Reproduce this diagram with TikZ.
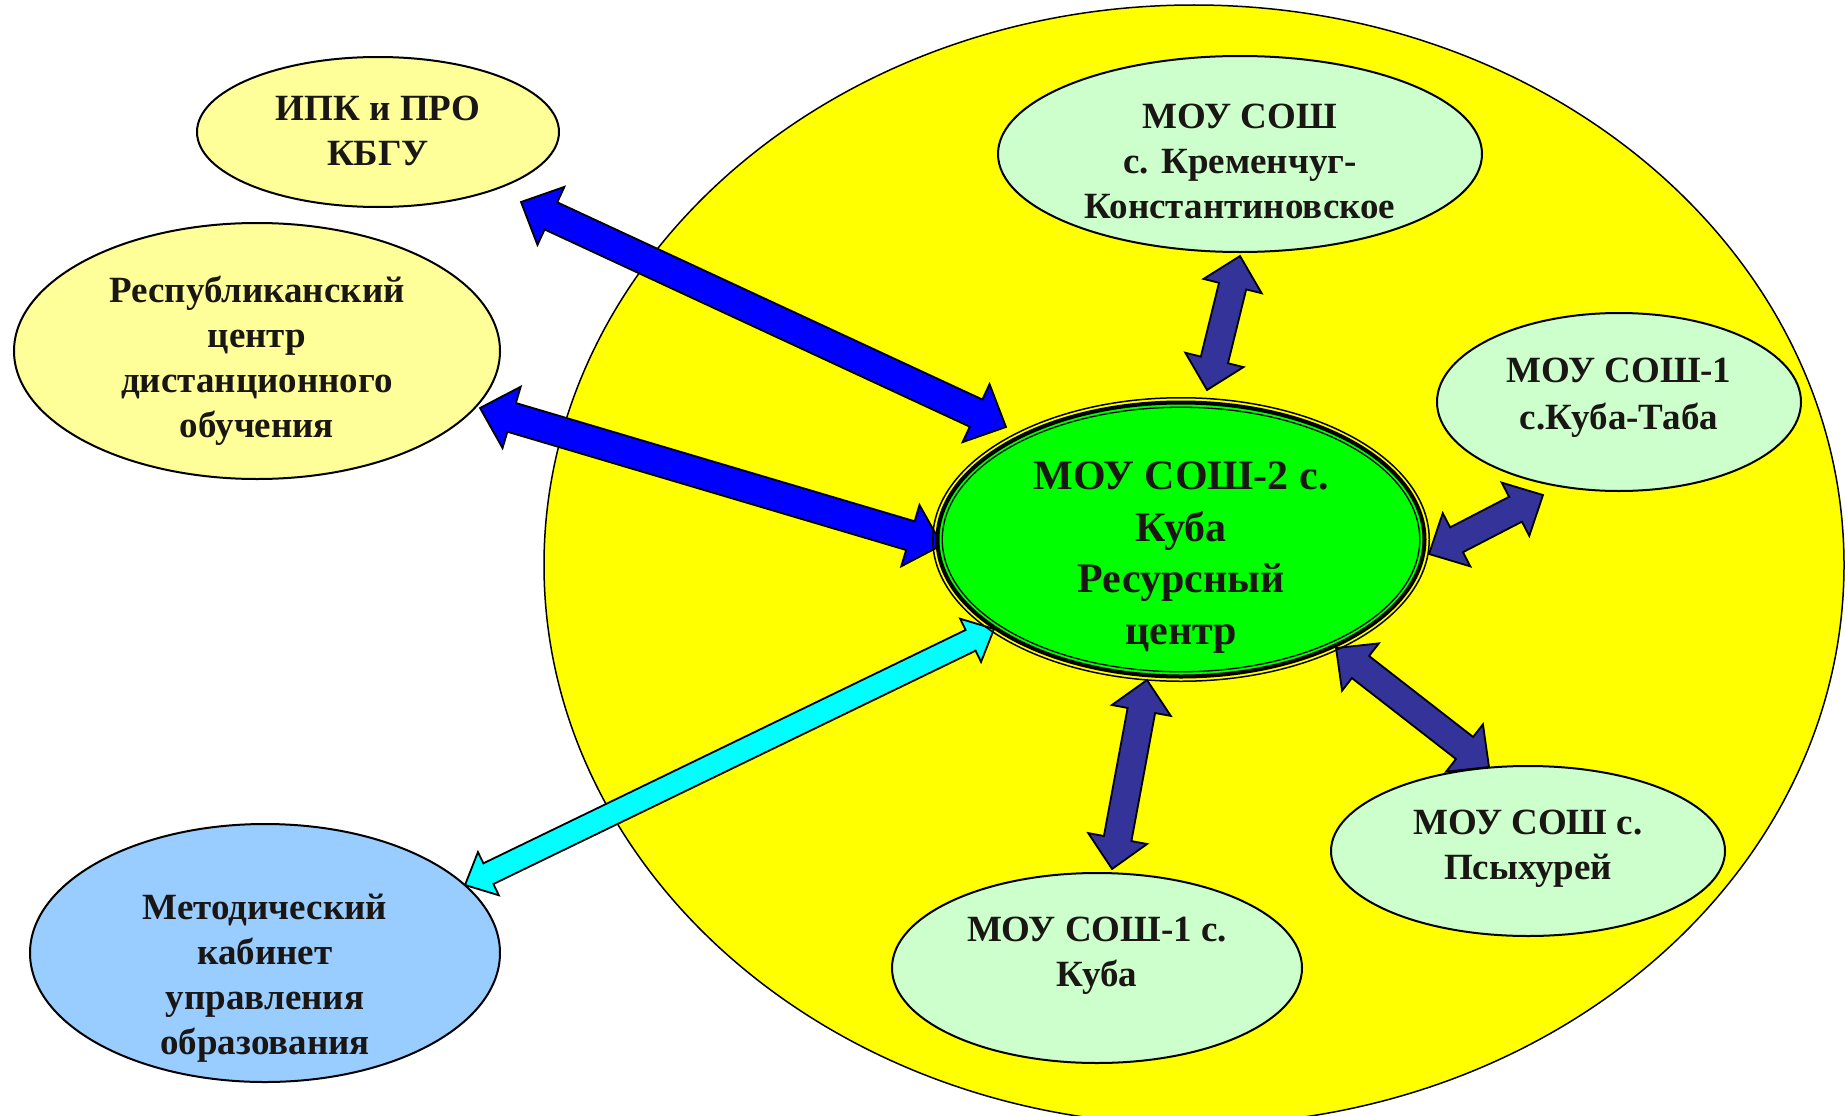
\documentclass[tikz,border=0pt]{standalone}
\usepackage{fontspec}
\setmainfont{Liberation Serif}
\usetikzlibrary{shapes.geometric,calc}
\definecolor{lyel}{HTML}{FFFF99}
\definecolor{mint}{HTML}{CCFFCC}
\definecolor{lblue}{HTML}{99CCFF}
\definecolor{zoneyel}{HTML}{FFFF00}
\definecolor{cgreen}{HTML}{00FF00}
\definecolor{arrblue}{HTML}{0000FF}
\definecolor{arrcyan}{HTML}{00FFFF}
\definecolor{arrdark}{HTML}{333399}
\definecolor{textc}{HTML}{1A1614}
\pgfdeclarelayer{bg}
\pgfdeclarelayer{mid}
\pgfsetlayers{bg,mid,main}
\newcommand\blockarrow[6]{%
  \coordinate (baA) at ($(#1)!#6!(#2)$);
  \coordinate (baB) at ($(#2)!#6!(#1)$);
  \draw[fill=#3, line width=1.8pt, line join=miter]
    (#1) -- ($(baA)!#5!90:(#2)$) -- ($(baA)!#4!90:(#2)$)
    -- ($(baB)!#4!-90:(#1)$) -- ($(baB)!#5!-90:(#1)$) -- (#2)
    -- ($(baB)!#5!90:(#1)$) -- ($(baB)!#4!90:(#1)$)
    -- ($(baA)!#4!-90:(#2)$) -- ($(baA)!#5!-90:(#2)$) -- cycle;
}
\begin{document}
\begin{tikzpicture}[x=1pt,y=-1pt,
  oval/.style={ellipse, draw=black, line width=2pt, inner sep=0pt},
  txt/.style={font=\bfseries\fontsize{37}{45}\selectfont, align=center, text=textc, inner sep=0pt},
  bigtxt/.style={font=\bfseries\fontsize{42}{51.5}\selectfont, align=center, text=textc, inner sep=0pt}]
\useasboundingbox (0,0) rectangle (1845,1116);

\begin{pgfonlayer}{bg}
\node[ellipse, draw=black, line width=1.5pt, fill=zoneyel, inner sep=0pt,
      minimum width=1300pt, minimum height=1120pt] (zone) at (1194,565) {};
\end{pgfonlayer}

% outer nodes
\node[oval, fill=lyel, minimum width=362pt, minimum height=150pt] (ipk) at (378,132) {};
\node[txt] (ipkT) at ($(ipk)+(0,-1)$) {ИПК и ПРО\\КБГУ};

\node[oval, fill=lyel, minimum width=486pt, minimum height=256pt] (rep) at (257,351) {};
\node[txt] (repT) at ($(rep)+(0,9.5)$) {Республиканский\\центр\\дистанционного\\обучения};

\node[oval, fill=lblue, minimum width=470pt, minimum height=258pt] (met) at (265,953) {};
\node[txt] (metT) at ($(met)+(0,25)$) {Методический\\кабинет\\управления\\образования};

\node[oval, fill=mint, minimum width=484pt, minimum height=196pt] (krem) at (1240,154) {};
\node[txt] (kremT) at ($(krem)+(0,7)$) {МОУ СОШ\\с. Кременчуг-\\Константиновское};

\node[oval, fill=mint, minimum width=364pt, minimum height=178pt] (taba) at (1619,402) {};
\node[txt, font=\bfseries\fontsize{37}{47}\selectfont] (tabaT) at ($(taba)+(0,-4.5)$) {МОУ СОШ-1\\с.Куба-Таба};

\node[oval, fill=mint, minimum width=394pt, minimum height=170pt] (psy) at (1528,851) {};
\node[txt] (psyT) at ($(psy)+(0,-2.5)$) {МОУ СОШ с.\\Псыхурей};

\node[oval, fill=mint, minimum width=410pt, minimum height=190pt] (kuba) at (1097,968) {};
\node[txt] (kubaT) at ($(kuba)+(0,-12)$) {МОУ СОШ-1 с.\\Куба};

% central resource centre
\node[ellipse, draw=black, line width=4pt, fill=cgreen, inner sep=0pt,
      minimum width=487pt, minimum height=274pt] (res) at (1181,539.5) {};
\draw[line width=1.5pt] (res.center) ellipse [x radius=248.25, y radius=141.75];
\draw[line width=1.3pt] (res.center) ellipse [x radius=238.75, y radius=132.25];
\node[bigtxt] (resT) at ($(res)+(0,18)$) {МОУ СОШ-2 с.\\Куба\\Ресурсный\\центр};

% arrow end points
\coordinate (ipkE) at (521,202);
\coordinate (resIpk) at (1006,427);
\coordinate (repE) at (480,408);
\coordinate (resRep) at (942,545);
\coordinate (metE) at (465,885);
\coordinate (resMet) at (994,629);
\coordinate (kremE) at (1240,256);
\coordinate (resKrem) at (1207,390);
\coordinate (tabaE) at (1543,495);
\coordinate (resTaba) at (1429,554);
\coordinate (psyE) at (1489,767);
\coordinate (resPsy) at (1336,648);
\coordinate (kubaE) at (1112,869);
\coordinate (resKuba) at (1147,680);

\begin{pgfonlayer}{mid}
\blockarrow{ipkE}{resIpk}{arrblue}{15pt}{32pt}{33pt}
\blockarrow{repE}{resRep}{arrblue}{15pt}{32pt}{33pt}
\blockarrow{metE}{resMet}{arrcyan}{11.5pt}{24pt}{26pt}
\blockarrow{kremE}{resKrem}{arrdark}{14pt}{30pt}{31pt}
\blockarrow{tabaE}{resTaba}{arrdark}{14pt}{30pt}{31pt}
\blockarrow{psyE}{resPsy}{arrdark}{14pt}{30pt}{31pt}
\blockarrow{kubaE}{resKuba}{arrdark}{14pt}{30pt}{31pt}
\end{pgfonlayer}
\end{tikzpicture}
\end{document}
